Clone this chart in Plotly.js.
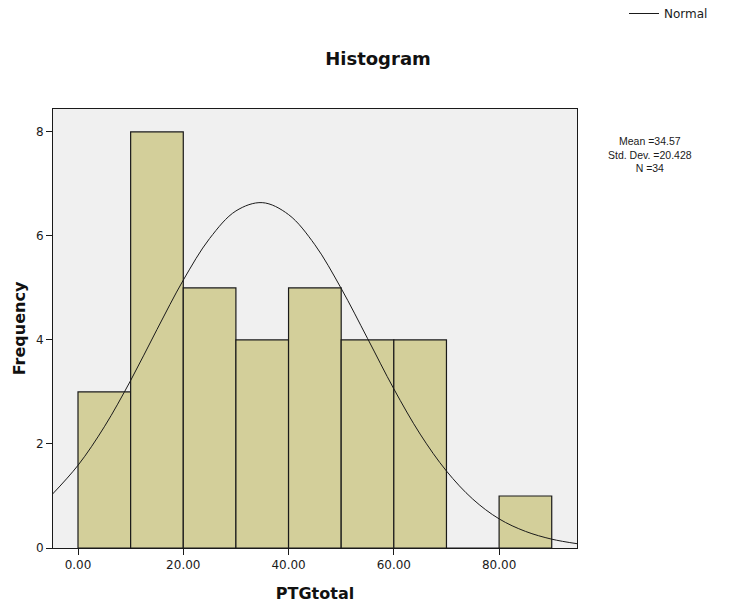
<!DOCTYPE html>
<html>
<head>
<meta charset="utf-8">
<script src="https://cdn.plot.ly/plotly-3.0.1.min.js"></script>
<style>html,body{margin:0;padding:0;background:#fff;}#chart{width:731px;height:614px;}</style>
</head>
<body>
<div id="chart"></div>
<script>
// Histogram bins (left edges) and frequencies
const binStarts = [0, 10, 20, 30, 40, 50, 60, 70, 80];
const binWidth = 10;
const frequencies = [3, 8, 5, 4, 5, 4, 4, 0, 1];

// Normal curve points
const curveX = [-5, 0, 5, 10, 15, 20, 25, 30, 35, 40, 45, 50, 55, 60, 65, 70, 75, 80, 85, 90, 95];
const curveY = [1.02, 1.59, 2.33, 3.22, 4.20, 5.15, 5.95, 6.48, 6.64, 6.41, 5.83, 4.99, 4.03, 3.06, 2.19, 1.48, 0.94, 0.56, 0.32, 0.17, 0.08];

const xTickVals = [0, 20, 40, 60, 80];
const xTickText = ["0.00", "20.00", "40.00", "60.00", "80.00"];
const yTickVals = [0, 2, 4, 6, 8];

const statsText = "Mean =34.57<br>Std. Dev. =20.428<br>N =34";

const FONT = "DejaVu Sans, Arial, sans-serif";
const SMALL_FONT = "Liberation Sans, Arial, sans-serif";

const traces = [
  {
    type: "bar",
    x: binStarts,
    y: frequencies,
    width: binStarts.map(() => binWidth),
    offset: 0,
    marker: {color: "#d3cf9a", line: {color: "#1a1a1a", width: 1.2}},
    showlegend: false,
    hoverinfo: "skip"
  },
  {
    type: "scatter",
    mode: "lines",
    x: curveX,
    y: curveY,
    line: {color: "#1a1a1a", width: 1, shape: "spline"},
    name: "Normal",
    showlegend: true
  }
];

const layout = {
  width: 731,
  height: 614,
  margin: {l: 53, r: 154, t: 109, b: 66, autoexpand: false},
  paper_bgcolor: "#ffffff",
  plot_bgcolor: "#f0f0f0",
  font: {family: FONT, size: 12, color: "#1a1a1a"},
  bargap: 0,
  title: {
    text: "<b>Histogram</b>",
    font: {family: FONT, size: 18, color: "#111"},
    xref: "container",
    x: 378 / 731,
    xanchor: "center",
    yref: "container",
    y: 1 - 59 / 614,
    yanchor: "middle"
  },
  xaxis: {
    range: [-4.75, 94.8],
    tickvals: xTickVals,
    ticktext: xTickText,
    ticks: "outside",
    ticklen: 6,
    tickcolor: "#1a1a1a",
    showgrid: false,
    zeroline: false,
    showline: true,
    linecolor: "#1a1a1a",
    linewidth: 1,
    mirror: true,
    tickfont: {family: FONT, size: 12, color: "#1a1a1a"},
    title: {text: "<b>PTGtotal</b>", font: {family: FONT, size: 16, color: "#111"}, standoff: 16}
  },
  yaxis: {
    range: [0, 8.44],
    tickvals: yTickVals,
    ticks: "outside",
    ticklen: 6,
    tickcolor: "#1a1a1a",
    showgrid: false,
    zeroline: false,
    showline: true,
    linecolor: "#1a1a1a",
    linewidth: 1,
    mirror: true,
    tickfont: {family: FONT, size: 12, color: "#1a1a1a"},
    title: {text: "<b>Frequency</b>", font: {family: FONT, size: 16, color: "#111"}, standoff: 6}
  },
  legend: {
    x: (624 - 53) / 524,
    xanchor: "left",
    y: (548 + 1) / 439,
    yanchor: "top",
    bgcolor: "rgba(0,0,0,0)",
    font: {family: FONT, size: 12, color: "#1a1a1a"},
    itemwidth: 30
  },
  annotations: [
    {
      text: statsText,
      xref: "paper", yref: "paper",
      x: (650 - 53) / 524, xanchor: "center",
      y: (548 - 133) / 439, yanchor: "top",
      showarrow: false,
      align: "center",
      font: {family: SMALL_FONT, size: 10.5, color: "#1a1a1a"}
    }
  ]
};

Plotly.newPlot("chart", traces, layout, {displayModeBar: false, staticPlot: true});
</script>
</body>
</html>
